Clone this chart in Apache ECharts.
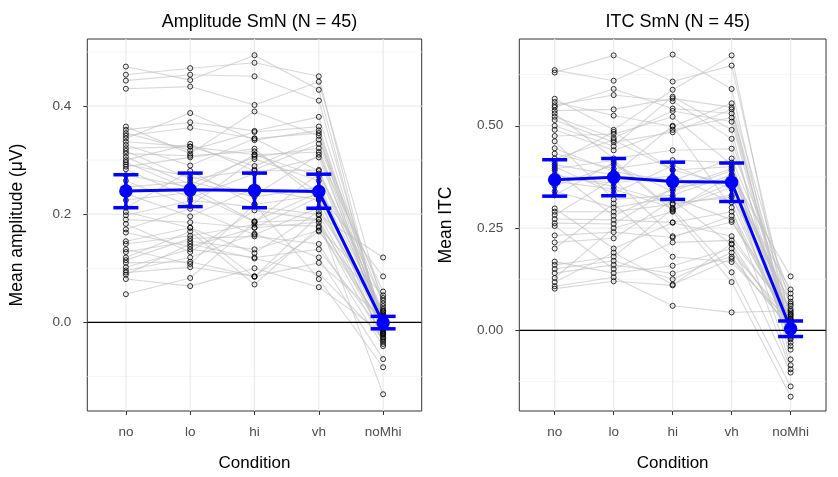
<!DOCTYPE html>
<html>
<head>
<meta charset="utf-8">
<script src="https://cdn.jsdelivr.net/npm/echarts@6/dist/echarts.min.js"></script>
<style>
  html, body { margin: 0; padding: 0; background: #fff; }
  #chart { width: 838px; height: 477px; }
</style>
</head>
<body>
<div id="chart"></div>
<script>
  const categories = ['no', 'lo', 'hi', 'vh', 'noMhi']

  // Amplitude SmN, one value per subject (45)
  const ampNo = [0.473,0.458,0.447,0.432,0.362,0.356,0.350,0.345,0.340,0.334,0.328,0.322,0.317,0.312,0.306,0.300,0.296,0.292,0.288,0.283,0.272,0.262,0.250,0.238,0.226,0.212,0.204,0.198,0.190,0.182,0.172,0.166,0.150,0.145,0.130,0.120,0.115,0.110,0.102,0.096,0.092,0.088,0.135,0.080,0.052]
  const ampLo = [0.448,0.470,0.458,0.436,0.312,0.370,0.318,0.360,0.387,0.325,0.290,0.325,0.265,0.308,0.255,0.330,0.245,0.270,0.305,0.230,0.250,0.215,0.260,0.196,0.240,0.280,0.175,0.225,0.185,0.130,0.210,0.140,0.175,0.160,0.150,0.168,0.155,0.112,0.135,0.120,0.102,0.145,0.108,0.067,0.082]
  const ampHi = [0.494,0.480,0.455,0.402,0.390,0.354,0.352,0.340,0.337,0.289,0.340,0.310,0.282,0.316,0.306,0.280,0.310,0.235,0.321,0.275,0.187,0.302,0.232,0.248,0.186,0.218,0.084,0.214,0.175,0.207,0.162,0.175,0.128,0.181,0.135,0.070,0.159,0.085,0.120,0.164,0.085,0.118,0.218,0.100,0.185]
  const ampVh = [0.430,0.455,0.410,0.445,0.345,0.380,0.362,0.280,0.355,0.338,0.350,0.270,0.330,0.240,0.322,0.282,0.315,0.310,0.228,0.305,0.240,0.262,0.250,0.226,0.275,0.235,0.198,0.200,0.232,0.190,0.212,0.185,0.205,0.178,0.170,0.175,0.145,0.168,0.135,0.120,0.110,0.090,0.080,0.065,0.190]
  const ampNoMhi = [-0.021,-0.022,-0.008,0.030,-0.028,0.002,-0.002,0.005,0.003,0.045,-0.012,0.012,0.035,-0.004,0.000,0.020,-0.014,0.057,-0.033,0.008,0.085,-0.040,0.018,-0.010,0.040,-0.006,0.120,-0.016,0.015,-0.025,0.010,-0.009,0.022,-0.036,-0.005,0.050,-0.044,0.025,-0.018,-0.068,0.007,-0.030,-0.083,-0.020,-0.133]
  const ampMean = [0.243, 0.245, 0.244, 0.242, -0.001]
  const ampLow = [0.212, 0.214, 0.212, 0.211, -0.012]
  const ampHigh = [0.273, 0.276, 0.276, 0.274, 0.011]
  const ampTicks = [0, 0.2, 0.4]
  const ampMinor = [-0.1, 0.1, 0.3, 0.5]

  // ITC SmN, one value per subject (45)
  const itcNo = [0.636,0.630,0.566,0.558,0.550,0.545,0.537,0.530,0.522,0.514,0.500,0.490,0.475,0.462,0.432,0.405,0.390,0.372,0.364,0.352,0.400,0.298,0.290,0.282,0.272,0.262,0.255,0.232,0.215,0.200,0.168,0.160,0.150,0.140,0.128,0.118,0.108,0.102,0.395,0.380,0.420,0.445,0.410,0.340,0.330]
  const itcLo = [0.610,0.672,0.490,0.525,0.575,0.590,0.540,0.420,0.470,0.460,0.450,0.440,0.480,0.320,0.395,0.380,0.280,0.360,0.345,0.405,0.335,0.200,0.290,0.370,0.270,0.260,0.150,0.240,0.225,0.310,0.140,0.180,0.170,0.160,0.250,0.190,0.130,0.120,0.415,0.352,0.465,0.388,0.485,0.300,0.410]
  const itcHi = [0.674,0.608,0.588,0.498,0.560,0.542,0.567,0.440,0.536,0.484,0.571,0.490,0.522,0.330,0.416,0.500,0.346,0.378,0.299,0.340,0.403,0.263,0.308,0.230,0.264,0.347,0.215,0.227,0.318,0.180,0.158,0.297,0.125,0.139,0.290,0.112,0.060,0.110,0.295,0.310,0.392,0.365,0.392,0.325,0.292]
  const itcVh = [0.590,0.647,0.672,0.555,0.468,0.530,0.545,0.444,0.510,0.540,0.490,0.520,0.405,0.380,0.410,0.300,0.395,0.313,0.360,0.390,0.345,0.230,0.330,0.265,0.290,0.370,0.220,0.280,0.210,0.167,0.200,0.142,0.190,0.180,0.118,0.175,0.044,0.212,0.350,0.325,0.400,0.420,0.355,0.270,0.380]
  const itcNoMhi = [-0.038,0.022,-0.022,0.060,-0.010,0.003,-0.030,0.090,-0.014,0.030,-0.071,0.000,-0.047,0.132,0.016,-0.095,0.044,-0.006,0.065,0.012,-0.003,0.035,-0.018,0.052,0.008,-0.085,0.040,0.005,-0.103,0.020,0.010,-0.137,0.025,0.001,-0.162,0.006,0.048,-0.008,0.100,0.070,0.028,0.080,0.018,0.015,0.038]
  const itcMean = [0.368, 0.374, 0.364, 0.362, 0.004]
  const itcLow = [0.328, 0.329, 0.320, 0.315, -0.015]
  const itcHigh = [0.417, 0.420, 0.411, 0.409, 0.023]
  const itcTicks = [0, 0.25, 0.5]
  const itcMinor = [-0.125, 0.125, 0.375, 0.625]

  const FONT = '"Liberation Sans", Arial, sans-serif'
  const X_MIN = 0.4, X_MAX = 5.6

  const panels = [
    {
      title: 'Amplitude SmN (N = 45)', yName: 'Mean amplitude (\u03bcV)',
      rows: [ampNo, ampLo, ampHi, ampVh, ampNoMhi],
      mean: ampMean, low: ampLow, high: ampHigh,
      ticks: ampTicks, minor: ampMinor, digits: 1,
      yMin: -0.164, yMax: 0.524,
      grid: { left: 87.3, top: 39, width: 334.4, height: 372.7 }, nameGap: 61
    },
    {
      title: 'ITC SmN (N = 45)', yName: 'Mean ITC',
      rows: [itcNo, itcLo, itcHi, itcVh, itcNoMhi],
      mean: itcMean, low: itcLow, high: itcHigh,
      ticks: itcTicks, minor: itcMinor, digits: 2,
      yMin: -0.197, yMax: 0.712,
      grid: { left: 519.3, top: 39, width: 306.7, height: 372.7 }, nameGap: 64
    }
  ]

  const xs = categories.map((c, j) => j + 1)

  var grids = [], xAxes = [], yAxes = [], titles = [], series = []

  panels.forEach((p, k) => {
    grids.push(Object.assign({ show: true, borderColor: '#333333', borderWidth: 1, backgroundColor: '#fff' }, p.grid))
    titles.push({
      text: p.title, left: p.grid.left + p.grid.width / 2, top: 8, textAlign: 'center',
      textStyle: { fontFamily: FONT, fontSize: 18, fontWeight: 'normal', color: '#000' }
    })
    xAxes.push({
      gridIndex: k, type: 'value', min: X_MIN, max: X_MAX,
      axisLine: { show: false, onZero: false },
      splitLine: { show: false },
      axisTick: { show: true, customValues: xs, length: 4, lineStyle: { color: '#333333' } },
      axisLabel: {
        customValues: xs, formatter: v => categories[Math.round(v) - 1],
        color: '#4d4d4d', fontSize: 13.5, fontFamily: FONT, margin: 14
      },
      name: 'Condition', nameLocation: 'middle', nameGap: 44,
      nameTextStyle: { fontFamily: FONT, fontSize: 17, color: '#000' }
    })
    yAxes.push({
      gridIndex: k, type: 'value', min: p.yMin, max: p.yMax,
      axisLine: { show: false, onZero: false },
      splitLine: { show: false },
      axisTick: { show: true, customValues: p.ticks, length: 4, lineStyle: { color: '#333333' } },
      axisLabel: {
        customValues: p.ticks, formatter: v => v.toFixed(p.digits),
        color: '#4d4d4d', fontSize: 13.5, fontFamily: FONT, margin: 16
      },
      name: p.yName, nameLocation: 'middle', nameGap: p.nameGap,
      nameTextStyle: { fontFamily: FONT, fontSize: 17.5, color: '#000' }
    })

    // background grid lines: [value, vertical?, major?]
    var gridData = []
    p.ticks.forEach(v => gridData.push([v, 0, 1]))
    p.minor.forEach(v => gridData.push([v, 0, 0]))
    xs.forEach(v => gridData.push([v, 1, 1]))
    series.push({
      type: 'custom', xAxisIndex: k, yAxisIndex: k, silent: true, z: 0,
      data: gridData,
      renderItem: function (params, api) {
        var v = api.value(0), vert = api.value(1), major = api.value(2)
        var a = vert ? api.coord([v, p.yMin]) : api.coord([X_MIN, v])
        var b = vert ? api.coord([v, p.yMax]) : api.coord([X_MAX, v])
        return {
          type: 'line', shape: { x1: a[0], y1: a[1], x2: b[0], y2: b[1] },
          style: { stroke: major ? '#ebebeb' : '#f3f3f3', lineWidth: major ? 1.2 : 0.8 }
        }
      }
    })

    // one grey line per subject
    for (var i = 0; i < p.rows[0].length; i++) {
      series.push({
        type: 'line', xAxisIndex: k, yAxisIndex: k, silent: true, z: 1,
        symbol: 'none', animation: false,
        data: xs.map((x, j) => [x, p.rows[j][i]]),
        lineStyle: { color: 'rgba(190,190,190,0.6)', width: 1.1 }
      })
    }

    // zero line
    series.push({
      type: 'custom', xAxisIndex: k, yAxisIndex: k, silent: true, z: 2,
      data: [[0]],
      renderItem: function (params, api) {
        var a = api.coord([X_MIN, 0]), b = api.coord([X_MAX, 0])
        return {
          type: 'line', shape: { x1: a[0], y1: a[1], x2: b[0], y2: b[1] },
          style: { stroke: '#000', lineWidth: 1.2 }
        }
      }
    })

    // subject points (open circles)
    var pts = []
    p.rows.forEach((col, j) => col.forEach(v => pts.push([j + 1, v])))
    series.push({
      type: 'scatter', xAxisIndex: k, yAxisIndex: k, silent: true, z: 3,
      symbol: 'circle', symbolSize: 5, data: pts,
      itemStyle: { color: 'rgba(255,255,255,0)', borderColor: '#000', borderWidth: 1 }
    })

    // error bars
    series.push({
      type: 'custom', xAxisIndex: k, yAxisIndex: k, silent: true, z: 4,
      data: xs.map((x, j) => [x, p.low[j], p.high[j]]),
      renderItem: function (params, api) {
        var lo = api.coord([api.value(0), api.value(1)])
        var hi = api.coord([api.value(0), api.value(2)])
        var w = 12.5
        var st = { stroke: '#0000ff', lineWidth: 3.5 }
        return {
          type: 'group', children: [
            { type: 'line', shape: { x1: lo[0], y1: lo[1], x2: hi[0], y2: hi[1] }, style: st },
            { type: 'line', shape: { x1: lo[0] - w, y1: lo[1], x2: lo[0] + w, y2: lo[1] }, style: st },
            { type: 'line', shape: { x1: hi[0] - w, y1: hi[1], x2: hi[0] + w, y2: hi[1] }, style: st }
          ]
        }
      }
    })

    // mean line and points
    series.push({
      type: 'line', xAxisIndex: k, yAxisIndex: k, silent: true, z: 5,
      data: xs.map((x, j) => [x, p.mean[j]]),
      symbol: 'circle', symbolSize: 13.5, showSymbol: true,
      itemStyle: { color: '#0000ff' },
      lineStyle: { color: '#0000ff', width: 3 }
    })
  })

  var myChart = echarts.init(document.getElementById('chart'))
  myChart.setOption({
    animation: false,
    title: titles,
    grid: grids,
    xAxis: xAxes,
    yAxis: yAxes,
    series: series
  })
</script>
</body>
</html>
